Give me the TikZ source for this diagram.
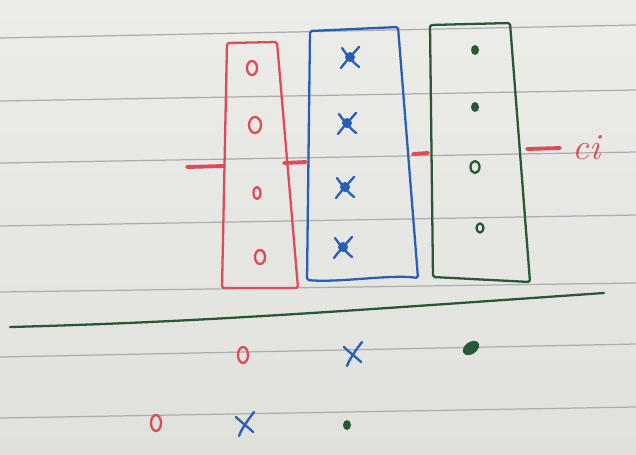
\documentclass[tikz,border=0pt]{standalone}
\usetikzlibrary{positioning}

\definecolor{paper}{RGB}{236,236,233}
\definecolor{paperdark}{RGB}{224,224,221}
\definecolor{ruling}{RGB}{172,172,176}
\definecolor{penred}{RGB}{222,74,88}
\definecolor{penblue}{RGB}{40,94,182}
\definecolor{pengreen}{RGB}{40,88,54}

\begin{document}
\begin{tikzpicture}[
    x=0.02cm, y=-0.02cm,
    ruleline/.style={draw=ruling, line width=0.7pt},
    redpen/.style={draw=penred, line width=1.3pt, line cap=round, line join=round},
    bluepen/.style={draw=penblue, line width=1.3pt, line cap=round, line join=round},
    greenpen/.style={draw=pengreen, line width=1.3pt, line cap=round, line join=round},
    tickpen/.style={draw=penred, line width=2.2pt, line cap=round},
    cilabel/.style={text=penred, font=\fontsize{21}{24}\selectfont\itshape, inner sep=0pt}
]
    \useasboundingbox (0,0) rectangle (636,454);
    \shade[top color=paper, bottom color=paperdark] (0,0) rectangle (636,454);

    % ruled paper
    \foreach \ya/\yb in {38/25, 101/90, 163/152, 226/215, 292/283, 357/344, 418/407}
        \draw[ruleline] (0,\ya) -- (636,\yb);

    % the three columns
    \coordinate (redNW) at (227,43);
    \coordinate (redNE) at (277,42);
    \coordinate (redSE) at (298,288);
    \coordinate (redSW) at (222,288);
    \coordinate (blueNW) at (310,31);
    \coordinate (blueNE) at (398,27);
    \coordinate (blueSE) at (418,278);
    \coordinate (blueSW) at (307,280);
    \coordinate (greenNW) at (430,25);
    \coordinate (greenNE) at (510,23);
    \coordinate (greenSE) at (530,282);
    \coordinate (greenSW) at (433,277);

    \draw[redpen, rounded corners=1pt] (redNW) -- (redNE) -- (redSE) -- (redSW) -- cycle;
    \draw[bluepen, rounded corners=1pt] (blueNW) -- (blueNE) -- (blueSE)
        .. controls (390,274) and (340,283) .. (blueSW) -- cycle;
    \draw[greenpen, rounded corners=1pt] (greenNW) -- (greenNE) -- (greenSE) -- (greenSW) -- cycle;

    % red ticks
    \coordinate (tickA) at (187,167);
    \coordinate (redW) at (224,166);
    \coordinate (redE) at (284,163);
    \coordinate (blueW) at (306,162);
    \coordinate (blueE) at (413,154);
    \coordinate (greenW) at (428,153);
    \coordinate (greenE) at (527,149);
    \coordinate (tickB) at (560,148);
    \draw[tickpen] (tickA) -- (redW);
    \draw[tickpen] (redE) -- (blueW);
    \draw[tickpen] (blueE) -- (greenW);
    \draw[tickpen] (greenE) -- (tickB);
    \node[cilabel, right=7pt of tickB] (ci) {ci};

    % red column
    \foreach \px/\py/\rx/\ry in {252/68/5/7, 255/125/6/8, 257/193/3.5/6, 260/257/5/7}
        \draw[redpen] (\px,\py) ellipse [x radius=\rx, y radius=\ry];

    % blue column
    \foreach \px/\py in {350/57, 347/123, 345/187, 343/247} {
        \draw[bluepen] (\px+9,\py-10) .. controls (\px+2,\py-2) and (\px-4,\py+4) .. (\px-9,\py+11);
        \draw[bluepen] (\px-8,\py-9) .. controls (\px-2,\py) and (\px+4,\py+6) .. (\px+9,\py+10);
        \fill[penblue] (\px,\py) circle [radius=5];
    }

    % green column
    \foreach \px/\py in {475/50, 475/107}
        \fill[pengreen] (\px,\py) ellipse [x radius=4, y radius=5];
    \foreach \px/\py/\rx/\ry in {475/167/4.5/6, 480/228/3.5/4.5}
        \draw[greenpen] (\px,\py) ellipse [x radius=\rx, y radius=\ry];

    % dividing line
    \coordinate (lineL) at (10,327);
    \coordinate (lineR) at (604,293);
    \draw[greenpen] (lineL) .. controls (200,322) and (330,312) .. (lineR);

    % bottom rows
    \foreach \px/\py in {243/355, 156/423}
        \draw[redpen] (\px,\py) ellipse [x radius=5, y radius=8];
    \foreach \px/\py in {353/353, 245/423} {
        \draw[bluepen] (\px+9,\py-11) .. controls (\px+3,\py-3) and (\px-3,\py+5) .. (\px-6,\py+13);
        \draw[bluepen] (\px-9,\py-6) .. controls (\px-3,\py) and (\px+3,\py+4) .. (\px+8,\py+9);
    }
    \fill[pengreen, rotate around={35:(471,348)}] (471,348) ellipse [x radius=9, y radius=6];
    \fill[pengreen] (347,425) ellipse [x radius=4, y radius=5];
\end{tikzpicture}
\end{document}
